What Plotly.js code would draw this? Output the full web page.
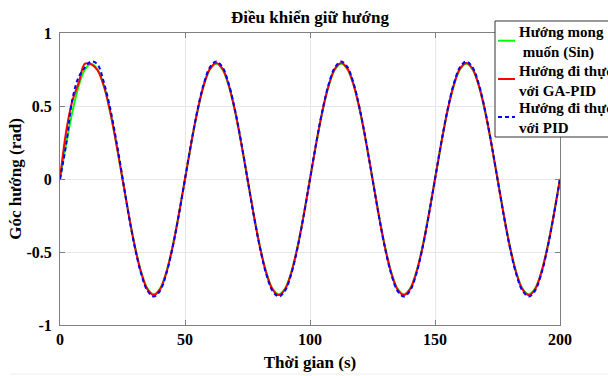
<!DOCTYPE html>
<html>
<head>
<meta charset="utf-8">
<script src="https://cdn.plot.ly/plotly-3.0.1.min.js"></script>
<style>html,body{margin:0;padding:0;background:#fff;}#chart{width:608px;height:376px;}</style>
</head>
<body>
<div id="chart"></div>
<script>
// Time (s)
var timeS = [0,2.5,5,7.5,10,12.5,15,17.5,20,22.5,25,27.5,30,32.5,35,37.5,40,42.5,45,47.5,
  50,52.5,55,57.5,60,62.5,65,67.5,70,72.5,75,77.5,80,82.5,85,87.5,90,92.5,95,97.5,
  100,102.5,105,107.5,110,112.5,115,117.5,120,122.5,125,127.5,130,132.5,135,137.5,140,142.5,145,147.5,
  150,152.5,155,157.5,160,162.5,165,167.5,170,172.5,175,177.5,180,182.5,185,187.5,190,192.5,195,197.5,200];

// Desired heading (Sin)
var desired = [0,0.244,0.464,0.639,0.751,0.79,0.751,0.639,0.464,0.244,0,-0.244,-0.464,-0.639,-0.751,-0.79,-0.751,-0.639,-0.464,-0.244,
  0,0.244,0.464,0.639,0.751,0.79,0.751,0.639,0.464,0.244,0,-0.244,-0.464,-0.639,-0.751,-0.79,-0.751,-0.639,-0.464,-0.244,
  0,0.244,0.464,0.639,0.751,0.79,0.751,0.639,0.464,0.244,0,-0.244,-0.464,-0.639,-0.751,-0.79,-0.751,-0.639,-0.464,-0.244,
  0,0.244,0.464,0.639,0.751,0.79,0.751,0.639,0.464,0.244,0,-0.244,-0.464,-0.639,-0.751,-0.79,-0.751,-0.639,-0.464,-0.244,
  0];

// Actual heading with GA-PID
var gaPid = [0,0.33,0.54,0.66,0.79,0.785,0.745,0.64,0.468,0.246,0,-0.246,-0.468,-0.643,-0.756,-0.795,-0.756,-0.643,-0.468,-0.246,
  0,0.246,0.468,0.643,0.756,0.795,0.756,0.643,0.468,0.246,0,-0.246,-0.468,-0.643,-0.756,-0.795,-0.756,-0.643,-0.468,-0.246,
  0,0.246,0.468,0.643,0.756,0.795,0.756,0.643,0.468,0.246,0,-0.246,-0.468,-0.643,-0.756,-0.795,-0.756,-0.643,-0.468,-0.246,
  0,0.246,0.468,0.643,0.756,0.795,0.756,0.643,0.468,0.246,0,-0.246,-0.468,-0.643,-0.756,-0.795,-0.756,-0.643,-0.468,-0.246,
  0];

// Actual heading with PID
var pid = [0,0.24,0.55,0.70,0.765,0.805,0.785,0.665,0.49,0.265,0.01,-0.249,-0.473,-0.651,-0.766,-0.805,-0.766,-0.651,-0.473,-0.249,
  0,0.249,0.473,0.651,0.766,0.805,0.766,0.651,0.473,0.249,0,-0.249,-0.473,-0.651,-0.766,-0.805,-0.766,-0.651,-0.473,-0.249,
  0,0.249,0.473,0.651,0.766,0.805,0.766,0.651,0.473,0.249,0,-0.249,-0.473,-0.651,-0.766,-0.805,-0.766,-0.651,-0.473,-0.249,
  0,0.249,0.473,0.651,0.766,0.805,0.766,0.651,0.473,0.249,0,-0.249,-0.473,-0.651,-0.766,-0.805,-0.766,-0.651,-0.473,-0.249,
  0];

var seriesNames = ['Hướng mong<br> muốn (Sin)', 'Hướng đi thực<br>với GA-PID', 'Hướng đi thực<br>với PID'];
var seriesColors = ['#00ff00', '#ff0000', '#0000ff'];
var xTickVals = [0, 50, 100, 150, 200];
var xTickText = ['0', '50', '100', '150', '200'];
var yTickVals = [-1, -0.5, 0, 0.5, 1];
var yTickText = ['-1', '-0.5', '0', '0.5', '1'];

var serif = 'Liberation Serif, Times New Roman, serif';

var traces = [
  {x: timeS, y: desired, name: seriesNames[0], type: 'scatter', mode: 'lines',
   line: {color: seriesColors[0], width: 2, shape: 'spline', smoothing: 1}},
  {x: timeS, y: gaPid, name: seriesNames[1], type: 'scatter', mode: 'lines',
   line: {color: seriesColors[1], width: 2, shape: 'spline', smoothing: 1}},
  {x: timeS, y: pid, name: seriesNames[2], type: 'scatter', mode: 'lines',
   line: {color: seriesColors[2], width: 2, dash: '4px,3px', shape: 'spline', smoothing: 1}}
];

var axisCommon = {
  showline: true, mirror: 'ticks', linecolor: '#808080', linewidth: 1,
  ticks: 'inside', ticklen: 5, tickcolor: '#808080',
  showgrid: true, gridcolor: '#e6e6e6', gridwidth: 1, zeroline: false,
  tickfont: {family: serif, size: 16, color: '#000', weight: 'bold'}
};

// Legend box drawn in paper space (MATLAB-style legend that runs past the right edge)
var legY = [0.9736, 0.8425, 0.7123];     // symbol rows
var legTextY = [0.9675, 0.8373, 0.7072]; // text block centres
var shapes = [
  {type: 'line', xref: 'paper', yref: 'paper', x0: -0.1, x1: 1.1, y0: -0.168, y1: -0.168,
   line: {color: '#eeeeee', width: 1}},
  {type: 'rect', xref: 'paper', yref: 'paper', x0: 0.87, x1: 1.13, y0: 0.6438, y1: 1.0411,
   fillcolor: '#ffffff', line: {color: '#333333', width: 1}, layer: 'above'}
];
var annotations = [];
for (var i = 0; i < seriesNames.length; i++) {
  shapes.push({type: 'line', xref: 'paper', yref: 'paper', x0: 0.876, x1: 0.91, y0: legY[i], y1: legY[i],
    line: {color: seriesColors[i], width: 2, dash: i === 2 ? '4px,3px' : 'solid'}, layer: 'above'});
  annotations.push({text: seriesNames[i], xref: 'paper', yref: 'paper', x: 0.914, y: legTextY[i],
    xanchor: 'left', yanchor: 'middle', align: 'left', showarrow: false,
    font: {family: serif, size: 15, color: '#000', weight: 'bold'}});
}

var layout = {
  width: 608, height: 376,
  margin: {l: 60, r: 48, t: 33, b: 51, autoexpand: false},
  paper_bgcolor: '#ffffff', plot_bgcolor: '#ffffff',
  title: {text: 'Điều khiển giữ hướng', font: {family: serif, size: 17, color: '#000', weight: 'bold'},
          x: 0.5, xref: 'paper', y: 0.955, yref: 'container', yanchor: 'middle'},
  xaxis: Object.assign({}, axisCommon, {
    range: [0, 200], tickvals: xTickVals, ticktext: xTickText,
    title: {text: 'Thời gian (s)', font: {family: serif, size: 17, color: '#000', weight: 'bold'}, standoff: 8}
  }),
  yaxis: Object.assign({}, axisCommon, {
    range: [-1, 1], tickvals: yTickVals, ticktext: yTickText, ticklabelstandoff: 4,
    title: {text: 'Góc hướng (rad)', font: {family: serif, size: 17, color: '#000', weight: 'bold'}, standoff: 0}
  }),
  showlegend: false,
  shapes: shapes,
  annotations: annotations
};

Plotly.newPlot('chart', traces, layout, {displayModeBar: false, staticPlot: true});
</script>
</body>
</html>
